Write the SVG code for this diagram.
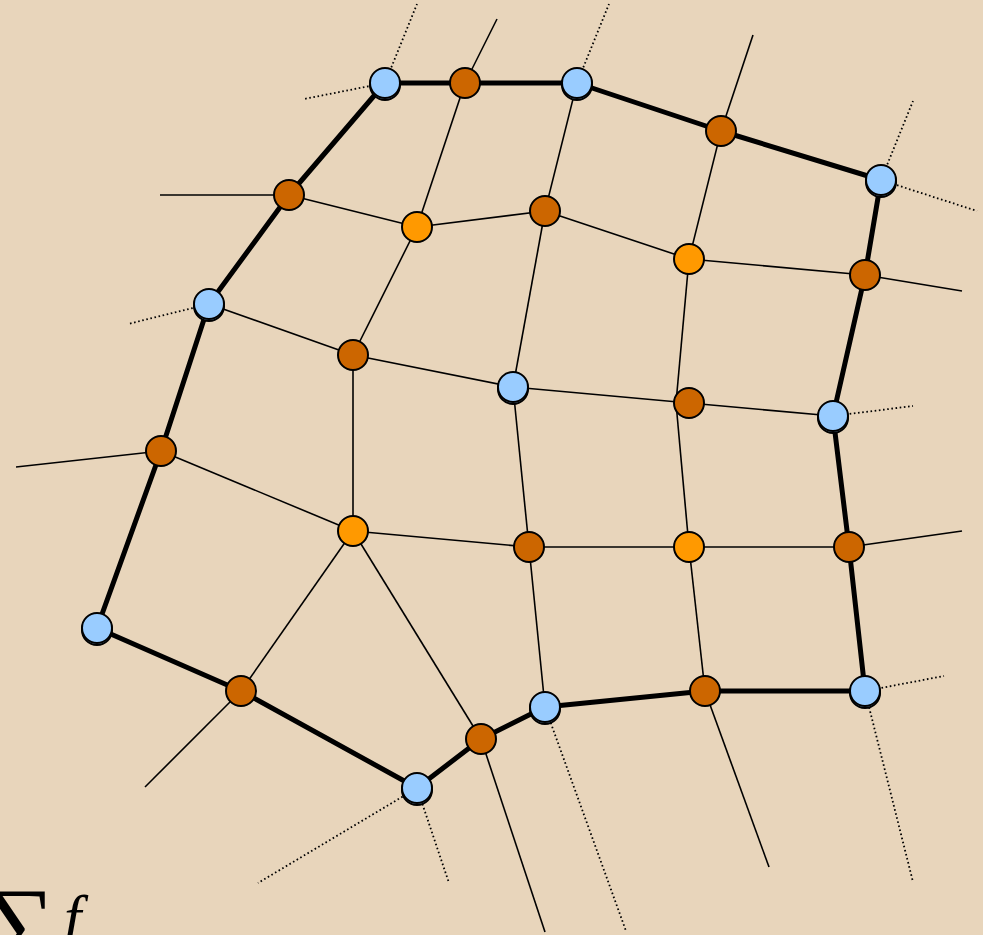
<svg xmlns="http://www.w3.org/2000/svg" width="983" height="935" viewBox="0 0 983 935">
<style>
.thick{stroke:#000;stroke-width:5;fill:none;stroke-linejoin:round}
.thin{stroke:#000;stroke-width:1.6;fill:none}
.dot{stroke:#000;stroke-width:1.8;fill:none;stroke-dasharray:1.6 2.6}
.b{fill:#99ccff;stroke:#000;stroke-width:2}
.bs{fill:#99ccff;stroke:#000;stroke-width:2}
.d{fill:#cc6600;stroke:#000;stroke-width:2}
.o{fill:#ff9900;stroke:#000;stroke-width:2}
.math{font-family:"Liberation Serif","DejaVu Serif",serif;fill:#000}
</style>
<rect width="983" height="935" fill="#e8d5bb"/>
<g id="connectors">
<line class="dot" x1="385" y1="83" x2="417" y2="4"/>
<line class="dot" x1="385" y1="83" x2="304" y2="99"/>
<line class="dot" x1="577" y1="83" x2="609" y2="4"/>
<line class="dot" x1="881" y1="180" x2="913" y2="101"/>
<line class="dot" x1="881" y1="180" x2="977" y2="211"/>
<line class="dot" x1="209" y1="304" x2="128" y2="324"/>
<line class="dot" x1="833" y1="416" x2="913" y2="406"/>
<line class="dot" x1="865" y1="691" x2="944" y2="676"/>
<line class="dot" x1="865" y1="691" x2="913" y2="882"/>
<line class="dot" x1="545" y1="707" x2="626" y2="931"/>
<line class="dot" x1="417" y1="788" x2="258" y2="883"/>
<line class="dot" x1="417" y1="788" x2="449" y2="883"/>
<line class="thin" x1="465" y1="83" x2="497" y2="19"/>
<line class="thin" x1="721" y1="131" x2="753" y2="35"/>
<line class="thin" x1="289" y1="195" x2="160" y2="195"/>
<line class="thin" x1="865" y1="275" x2="962" y2="291"/>
<line class="thin" x1="161" y1="451" x2="16" y2="467"/>
<line class="thin" x1="849" y1="547" x2="962" y2="531"/>
<line class="thin" x1="241" y1="691" x2="145" y2="787"/>
<line class="thin" x1="481" y1="739" x2="545" y2="932"/>
<line class="thin" x1="705" y1="691" x2="769" y2="867"/>
<line class="thin" x1="289" y1="195" x2="417" y2="227"/>
<line class="thin" x1="417" y1="227" x2="545" y2="211"/>
<line class="thin" x1="545" y1="211" x2="689" y2="259"/>
<line class="thin" x1="689" y1="259" x2="865" y2="275"/>
<line class="thin" x1="465" y1="83" x2="417" y2="227"/>
<line class="thin" x1="417" y1="227" x2="353" y2="355"/>
<line class="thin" x1="209" y1="304" x2="353" y2="355"/>
<line class="thin" x1="353" y1="355" x2="513" y2="387"/>
<line class="thin" x1="513" y1="387" x2="689" y2="403"/>
<line class="thin" x1="689" y1="403" x2="833" y2="416"/>
<line class="thin" x1="577" y1="83" x2="545" y2="211"/>
<line class="thin" x1="545" y1="211" x2="513" y2="387"/>
<line class="thin" x1="513" y1="387" x2="529" y2="547"/>
<line class="thin" x1="721" y1="131" x2="689" y2="259"/>
<line class="thin" x1="689" y1="259" x2="676" y2="403"/>
<line class="thin" x1="676" y1="403" x2="689" y2="547"/>
<line class="thin" x1="689" y1="547" x2="705" y2="691"/>
<line class="thin" x1="353" y1="355" x2="353" y2="531"/>
<line class="thin" x1="161" y1="451" x2="353" y2="531"/>
<line class="thin" x1="353" y1="531" x2="529" y2="547"/>
<line class="thin" x1="529" y1="547" x2="689" y2="547"/>
<line class="thin" x1="689" y1="547" x2="849" y2="547"/>
<line class="thin" x1="353" y1="531" x2="241" y2="691"/>
<line class="thin" x1="353" y1="531" x2="481" y2="739"/>
<line class="thin" x1="529" y1="547" x2="545" y2="707"/>
<polygon class="thick" points="385,83 465,83 577,83 721,131 881,180 865,275 833,416 849,547 865,691 705,691 545,707 481,739 417,788 241,691 97,628 161,451 209,304 289,195"/>
</g>
<g id="B1"><circle class="bs" cx="385" cy="85" r="15"/><circle class="b" cx="385" cy="83" r="15"/></g>
<g id="B2"><circle class="bs" cx="577" cy="85" r="15"/><circle class="b" cx="577" cy="83" r="15"/></g>
<g id="B3"><circle class="bs" cx="881" cy="182" r="15"/><circle class="b" cx="881" cy="180" r="15"/></g>
<g id="B4"><circle class="bs" cx="209" cy="306" r="15"/><circle class="b" cx="209" cy="304" r="15"/></g>
<g id="B5"><circle class="bs" cx="513" cy="389" r="15"/><circle class="b" cx="513" cy="387" r="15"/></g>
<g id="B6"><circle class="bs" cx="833" cy="418" r="15"/><circle class="b" cx="833" cy="416" r="15"/></g>
<g id="B7"><circle class="bs" cx="97" cy="630" r="15"/><circle class="b" cx="97" cy="628" r="15"/></g>
<g id="B8"><circle class="bs" cx="865" cy="693" r="15"/><circle class="b" cx="865" cy="691" r="15"/></g>
<g id="B9"><circle class="bs" cx="545" cy="709" r="15"/><circle class="b" cx="545" cy="707" r="15"/></g>
<g id="B10"><circle class="bs" cx="417" cy="790" r="15"/><circle class="b" cx="417" cy="788" r="15"/></g>
<g id="D1"><circle class="d" cx="465" cy="83" r="15"/></g>
<g id="D2"><circle class="d" cx="721" cy="131" r="15"/></g>
<g id="D3"><circle class="d" cx="289" cy="195" r="15"/></g>
<g id="D4"><circle class="d" cx="545" cy="211" r="15"/></g>
<g id="D5"><circle class="d" cx="865" cy="275" r="15"/></g>
<g id="D6"><circle class="d" cx="353" cy="355" r="15"/></g>
<g id="D7"><circle class="d" cx="689" cy="403" r="15"/></g>
<g id="D8"><circle class="d" cx="161" cy="451" r="15"/></g>
<g id="D9"><circle class="d" cx="529" cy="547" r="15"/></g>
<g id="D10"><circle class="d" cx="849" cy="547" r="15"/></g>
<g id="D11"><circle class="d" cx="241" cy="691" r="15"/></g>
<g id="D12"><circle class="d" cx="705" cy="691" r="15"/></g>
<g id="D13"><circle class="d" cx="481" cy="739" r="15"/></g>
<g id="O1"><circle class="o" cx="417" cy="227" r="15"/></g>
<g id="O2"><circle class="o" cx="689" cy="259" r="15"/></g>
<g id="O3"><circle class="o" cx="353" cy="531" r="15"/></g>
<g id="O4"><circle class="o" cx="689" cy="547" r="15"/></g>
<g id="label">
<text class="math" x="-16" y="957" font-size="100">∑</text>
<text class="math" x="64" y="938" font-size="62" font-style="italic">f</text>
</g>
</svg>
